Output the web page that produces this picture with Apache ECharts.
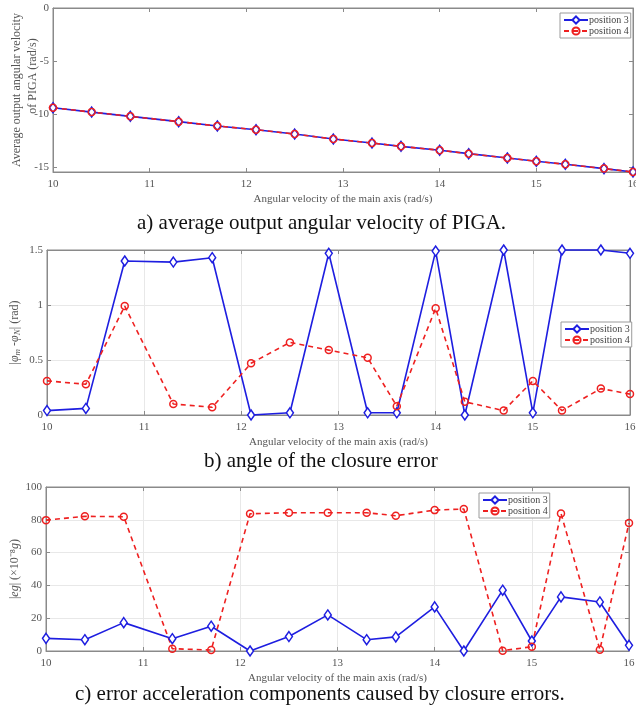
<!DOCTYPE html>
<html>
<head>
<meta charset="utf-8">
<script src="https://cdn.jsdelivr.net/npm/echarts@6/dist/echarts.min.js"></script>
<style>
  html, body { margin: 0; padding: 0; background: #fff; }
  #main { width: 636px; height: 709px; }
</style>
</head>
<body>
<div id="main"></div>
<script>
// 主轴角速度 (rad/s)
var speeds = [10, 10.4, 10.8, 11.3, 11.7, 12.1, 12.5, 12.9, 13.3, 13.6, 14, 14.3, 14.7, 15, 15.3, 15.7, 16];
// a) PIGA 平均输出角速度
var velPos3 = [-9.41, -9.82, -10.22, -10.72, -11.13, -11.48, -11.89, -12.36, -12.74, -13.05, -13.42, -13.74, -14.15, -14.46, -14.74, -15.15, -15.47];
var velPos4 = [-9.41, -9.82, -10.22, -10.72, -11.13, -11.48, -11.89, -12.36, -12.74, -13.05, -13.42, -13.74, -14.15, -14.46, -14.74, -15.15, -15.47];
// b) 闭合误差角
var anglePos3 = [0.04, 0.06, 1.40, 1.39, 1.43, 0.0, 0.02, 1.47, 0.02, 0.02, 1.49, 0.0, 1.50, 0.02, 1.50, 1.50, 1.47];
var anglePos4 = [0.31, 0.28, 0.99, 0.10, 0.07, 0.47, 0.66, 0.59, 0.52, 0.08, 0.97, 0.12, 0.04, 0.31, 0.04, 0.24, 0.19];
// c) 误差加速度分量
var accPos3 = [7.7, 6.9, 17.3, 7.5, 15.1, 0.0, 8.8, 22.0, 6.9, 8.6, 26.9, 0.0, 37.1, 6.1, 33.0, 29.9, 3.5];
var accPos4 = [79.8, 82.1, 81.9, 1.4, 0.6, 83.7, 84.3, 84.3, 84.3, 82.5, 85.9, 86.6, 0.2, 2.6, 83.9, 0.8, 78.0];
var velTicks = [-15, -10, -5, 0];

var seriesNames = ['position 3', 'position 4'];
var captions = [
  'a) average output angular velocity of PIGA.',
  'b) angle of the closure error',
  'c) error acceleration components caused by closure errors.'
];
var xTitle = 'Angular velocity of the main axis (rad/s)';

var FONT = 'Liberation Serif';
var BLUE = '#1e1ee0';
var RED = '#ee2020';
var AXIS_C = '#8a8a8a';
var LABEL_C = '#555';

function pairs(ys) {
  return speeds.map(function (x, i) { return [x, ys[i]]; });
}

function xAxisFor(gi, showGrid) {
  return [{
    type: 'value', gridIndex: gi, min: 10, max: 16, interval: 1,
    name: xTitle, nameLocation: 'middle', nameGap: 22, nameMoveOverlap: false,
    nameTextStyle: { fontFamily: FONT, fontSize: 11, color: LABEL_C },
    axisLine: { show: true, onZero: false, lineStyle: { color: AXIS_C } },
    axisTick: { inside: true, length: 4, lineStyle: { color: AXIS_C } },
    axisLabel: { margin: 7, fontFamily: FONT, fontSize: 11, color: LABEL_C, hideOverlap: false },
    splitLine: { show: showGrid, lineStyle: { color: '#e8e8e8' } }
  }, {
    type: 'value', gridIndex: gi, min: 10, max: 16, interval: 1, position: 'top',
    axisLine: { show: true, onZero: false, lineStyle: { color: AXIS_C } },
    axisTick: { inside: true, length: 4, lineStyle: { color: AXIS_C } },
    axisLabel: { show: false }, splitLine: { show: false }
  }];
}

function yAxisFor(gi, cfg) {
  var left = {
    type: 'value', gridIndex: gi, min: cfg.min, max: cfg.max,
    name: cfg.name, nameLocation: 'middle', nameGap: cfg.nameGap, nameRotate: 90,
    nameMoveOverlap: false,
    nameTextStyle: {
      fontFamily: FONT, fontSize: 12, color: LABEL_C, lineHeight: 16,
      rich: {
        i: { fontFamily: FONT, fontSize: 12, fontStyle: 'italic', color: LABEL_C },
        s: { fontFamily: FONT, fontSize: 9, fontStyle: 'italic', color: LABEL_C, padding: [6, 0, 0, 0] },
        p: { fontFamily: FONT, fontSize: 12, color: LABEL_C, padding: [0, 0, 0, 28] }
      }
    },
    axisLine: { show: true, onZero: false, lineStyle: { color: AXIS_C } },
    axisTick: { inside: true, length: 4, lineStyle: { color: AXIS_C } },
    axisLabel: { margin: 4, fontFamily: FONT, fontSize: 11, color: LABEL_C },
    splitLine: { show: cfg.grid, lineStyle: { color: '#e8e8e8' } }
  };
  var right = {
    type: 'value', gridIndex: gi, min: cfg.min, max: cfg.max, position: 'right',
    axisLine: { show: true, onZero: false, lineStyle: { color: AXIS_C } },
    axisTick: { inside: true, length: 4, lineStyle: { color: AXIS_C } },
    axisLabel: { show: false }, splitLine: { show: false }
  };
  if (cfg.ticks) {
    left.axisTick.customValues = cfg.ticks;
    left.axisLabel.customValues = cfg.ticks;
    right.axisTick.customValues = cfg.ticks;
  } else {
    left.interval = cfg.interval;
    right.interval = cfg.interval;
  }
  return [left, right];
}

function seriesFor(gi, p3, p4) {
  return [{
    name: seriesNames[0], type: 'line', xAxisIndex: gi * 2, yAxisIndex: gi * 2,
    data: pairs(p3), symbol: 'diamond', symbolSize: [7, 10], showAllSymbol: true,
    lineStyle: { color: BLUE, width: 1.6 },
    itemStyle: { color: '#fff', borderColor: BLUE, borderWidth: 1.5 },
    emphasis: { disabled: true }, clip: false
  }, {
    name: seriesNames[1], type: 'line', xAxisIndex: gi * 2, yAxisIndex: gi * 2,
    data: pairs(p4), symbol: 'circle', symbolSize: 7, showAllSymbol: true,
    lineStyle: { color: RED, width: 1.6, type: [5, 4] },
    itemStyle: { color: 'rgba(255,255,255,0)', borderColor: RED, borderWidth: 1.5 },
    emphasis: { disabled: true }, clip: false
  }];
}

function legendAt(left, top) {
  return {
    data: seriesNames, orient: 'vertical', left: left, top: top,
    backgroundColor: '#fff', borderColor: '#9a9a9a', borderWidth: 1,
    padding: [2, 2, 2, 3], itemGap: 1, itemWidth: 24, itemHeight: 9,
    textStyle: { fontFamily: FONT, fontSize: 10, color: '#444', padding: [0, 0, 0, -4] },
    selectedMode: false
  };
}

var myChart = echarts.init(document.getElementById('main'), null, { renderer: 'canvas' });

var capStyle = { fontFamily: FONT, fontSize: 21, fontWeight: 'normal', color: '#111' };
var option = {
  animation: false,
  backgroundColor: '#fff',
  title: [
    { text: captions[0], left: 137, top: 213, padding: 0, textStyle: capStyle },
    { text: captions[1], left: 204, top: 451, padding: 0, textStyle: capStyle },
    { text: captions[2], left: 75, top: 684, padding: 0, textStyle: capStyle }
  ],
  legend: [legendAt(560, 13), legendAt(561, 322), legendAt(479, 493)],
  grid: [
    { left: 53, right: 3, top: 8, height: 164, show: true, borderColor: AXIS_C, backgroundColor: '#fff', containLabel: false, outerBoundsMode: 'none' },
    { left: 47, right: 6, top: 250, height: 165, show: true, borderColor: AXIS_C, backgroundColor: '#fff', containLabel: false, outerBoundsMode: 'none' },
    { left: 46, right: 7, top: 487, height: 164, show: true, borderColor: AXIS_C, backgroundColor: '#fff', containLabel: false, outerBoundsMode: 'none' }
  ],
  xAxis: [].concat(xAxisFor(0, false), xAxisFor(1, true), xAxisFor(2, true)),
  yAxis: [].concat(
    yAxisFor(0, { min: -15.47, max: 0, ticks: velTicks, grid: false, nameGap: 12,
      name: 'Average output angular velocity\n{p|of PIGA (rad/s)}' }),
    yAxisFor(1, { min: 0, max: 1.5, interval: 0.5, grid: true, nameGap: 24,
      name: '|{i|φ}{s|m} -{i|φ}{s|N}| (rad)' }),
    yAxisFor(2, { min: 0, max: 100, interval: 20, grid: true, nameGap: 23,
      name: '|{i|eg}| (×10⁻⁸{i|g})' })
  ),
  series: [].concat(
    seriesFor(0, velPos3, velPos4),
    seriesFor(1, anglePos3, anglePos4),
    seriesFor(2, accPos3, accPos4)
  )
};

// 使用刚指定的配置项和数据显示图表。
myChart.setOption(option);
</script>
</body>
</html>
